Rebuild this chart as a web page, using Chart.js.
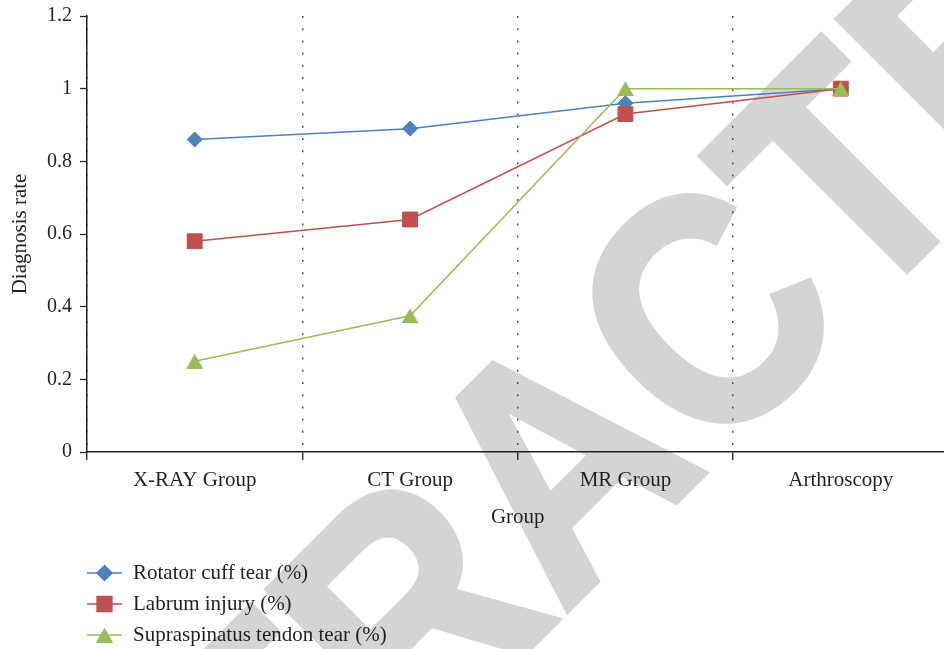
<!DOCTYPE html>
<html>
<head>
<meta charset="utf-8">
<script src="https://cdn.jsdelivr.net/npm/chart.js@4/dist/chart.umd.min.js"></script>
<style>
  html, body { margin: 0; padding: 0; background: #fff; overflow: hidden; width: 944px; height: 649px; }
  #wrap { position: relative; width: 960px; height: 649px; }
  canvas { display: block; }
</style>
</head>
<body>
<div id="wrap"><canvas id="chart" width="960" height="649"></canvas></div>
<script>
// Diagnostic groups on the x axis
const groups = ['X-RAY Group', 'CT Group', 'MR Group', 'Arthroscopy'];

// Series names
const seriesNames = ['Rotator cuff tear (%)', 'Labrum injury (%)', 'Supraspinatus tendon tear (%)'];

// Diagnosis rates per group
const rotatorCuff = [0.86, 0.89, 0.96, 1.0];
const labrum = [0.58, 0.64, 0.93, 1.0];
const supraspinatus = [0.25, 0.375, 1.0, 1.0];

// Y axis tick values
const yTicks = [0, 0.2, 0.4, 0.6, 0.8, 1, 1.2];

// Axis titles and stamp word
const xTitle = 'Group';
const yTitle = 'Diagnosis rate';
const stampText = 'RETRACTED';

const BLUE = '#4F81BD';
const RED = '#C0504D';
const GREEN = '#9BBB59';
const INK = '#231f20';
const SERIF = '"Liberation Serif", "Times New Roman", serif';

// Triangle marker centred on its bounding box
function makeTriangle(color) {
  const c = document.createElement('canvas');
  c.width = 17; c.height = 15;
  const g = c.getContext('2d');
  g.fillStyle = color;
  g.beginPath();
  g.moveTo(0, 15); g.lineTo(8.5, 0); g.lineTo(17, 15); g.closePath();
  g.fill();
  return c;
}
const triangleMarker = makeTriangle(GREEN);

// Large diagonal stamp behind the plot
const stampPlugin = {
  id: 'stamp',
  beforeDraw(chart) {
    const ctx = chart.ctx;
    ctx.save();
    ctx.fillStyle = '#fff';
    ctx.fillRect(0, 0, chart.width, chart.height);
    ctx.fillStyle = '#d4d4d4';
    ctx.strokeStyle = '#d4d4d4';
    ctx.lineWidth = 6;
    ctx.lineJoin = 'miter';
    ctx.font = 'bold 330px "Liberation Sans", Arial, sans-serif';
    ctx.textAlign = 'left';
    ctx.textBaseline = 'alphabetic';
    ctx.rotate(-Math.PI / 4);
    const sx = 0.88;
    ctx.scale(sx, 1);
    const lead = ctx.measureText(stampText.slice(0, 7)).width - ctx.measureText('T').width / 2;
    const start = 470.5 / sx - lead;
    ctx.fillText(stampText, start, 833);
    ctx.strokeText(stampText, start, 833);
    ctx.restore();
  }
};

// Vertical legend under the axis title
const legendPlugin = {
  id: 'stackedLegend',
  afterDraw(chart) {
    const ctx = chart.ctx;
    const left = chart.chartArea.left;
    const top0 = chart.scales.x.bottom + 43;
    chart.data.datasets.forEach((ds, i) => {
      const y = top0 + i * 31;
      ctx.save();
      ctx.strokeStyle = ds.borderColor;
      ctx.lineWidth = 1.5;
      ctx.beginPath();
      ctx.moveTo(left, y);
      ctx.lineTo(left + 35, y);
      ctx.stroke();
      ctx.fillStyle = ds.pointBackgroundColor;
      ctx.strokeStyle = ds.pointBackgroundColor;
      Chart.helpers.drawPoint(ctx, {
        pointStyle: ds.pointStyle,
        radius: ds.pointRadius,
        borderWidth: 1,
        rotation: 0
      }, left + 17.5, y);
      ctx.fillStyle = INK;
      ctx.font = '21px ' + SERIF;
      ctx.textAlign = 'left';
      ctx.textBaseline = 'middle';
      ctx.fillText(ds.label, left + 46, y);
      ctx.restore();
    });
  }
};

new Chart(document.getElementById('chart'), {
  type: 'line',
  data: {
    labels: groups,
    datasets: [
      {
        label: seriesNames[0], data: rotatorCuff,
        borderColor: BLUE, backgroundColor: BLUE,
        pointBackgroundColor: BLUE, pointBorderColor: BLUE,
        pointStyle: 'rectRot', pointRadius: 7.5, pointBorderWidth: 1,
        borderWidth: 1.5, tension: 0, order: 3
      },
      {
        label: seriesNames[1], data: labrum,
        borderColor: RED, backgroundColor: RED,
        pointBackgroundColor: RED, pointBorderColor: RED,
        pointStyle: 'rect', pointRadius: 10.5, pointBorderWidth: 1,
        borderWidth: 1.5, tension: 0, order: 2
      },
      {
        label: seriesNames[2], data: supraspinatus,
        borderColor: GREEN, backgroundColor: GREEN,
        pointBackgroundColor: GREEN, pointBorderColor: GREEN,
        pointStyle: triangleMarker, pointRadius: 9, pointBorderWidth: 0,
        borderWidth: 1.5, tension: 0, order: 1
      }
    ]
  },
  options: {
    responsive: false,
    animation: false,
    events: [],
    devicePixelRatio: 1,
    layout: { padding: { top: 16, right: 9, bottom: 119, left: 0 } },
    plugins: {
      legend: { display: false },
      tooltip: { enabled: false }
    },
    font: { family: SERIF },
    scales: {
      x: {
        type: 'category',
        offset: true,
        grid: {
          offset: true,
          drawOnChartArea: true,
          color: '#555',
          lineWidth: 1.5,
          tickLength: 8,
          tickColor: '#222',
          tickWidth: 1.3,
          tickBorderDash: []
        },
        border: { display: true, color: '#222', width: 1.5, dash: [2, 10.2] },
        ticks: { color: INK, font: { family: SERIF, size: 21 }, padding: 8, maxRotation: 0 },
        title: { display: true, text: xTitle, color: INK, font: { family: SERIF, size: 21 }, padding: { top: 0, bottom: 0 } },
        afterFit(s) { s.height = 78; s.paddingLeft = 0; s.paddingRight = 0; }
      },
      y: {
        min: 0,
        max: 1.2,
        afterBuildTicks(s) { s.ticks = yTicks.map(v => ({ value: v })); },
        grid: {
          drawOnChartArea: false,
          drawTicks: true,
          tickLength: 7,
          tickColor: '#222',
          tickWidth: 1.3
        },
        border: { display: true, color: '#222', width: 1.5 },
        ticks: {
          color: INK,
          font: { family: SERIF, size: 20 },
          padding: 8,
          callback: v => String(Number(v.toFixed(2)))
        },
        title: { display: true, text: yTitle, color: INK, font: { family: SERIF, size: 21 }, padding: { top: 8, bottom: 0 } },
        afterFit(s) { s.width = 87; s.paddingTop = 0; s.paddingBottom = 0; }
      }
    }
  },
  plugins: [stampPlugin, legendPlugin]
});
</script>
</body>
</html>
